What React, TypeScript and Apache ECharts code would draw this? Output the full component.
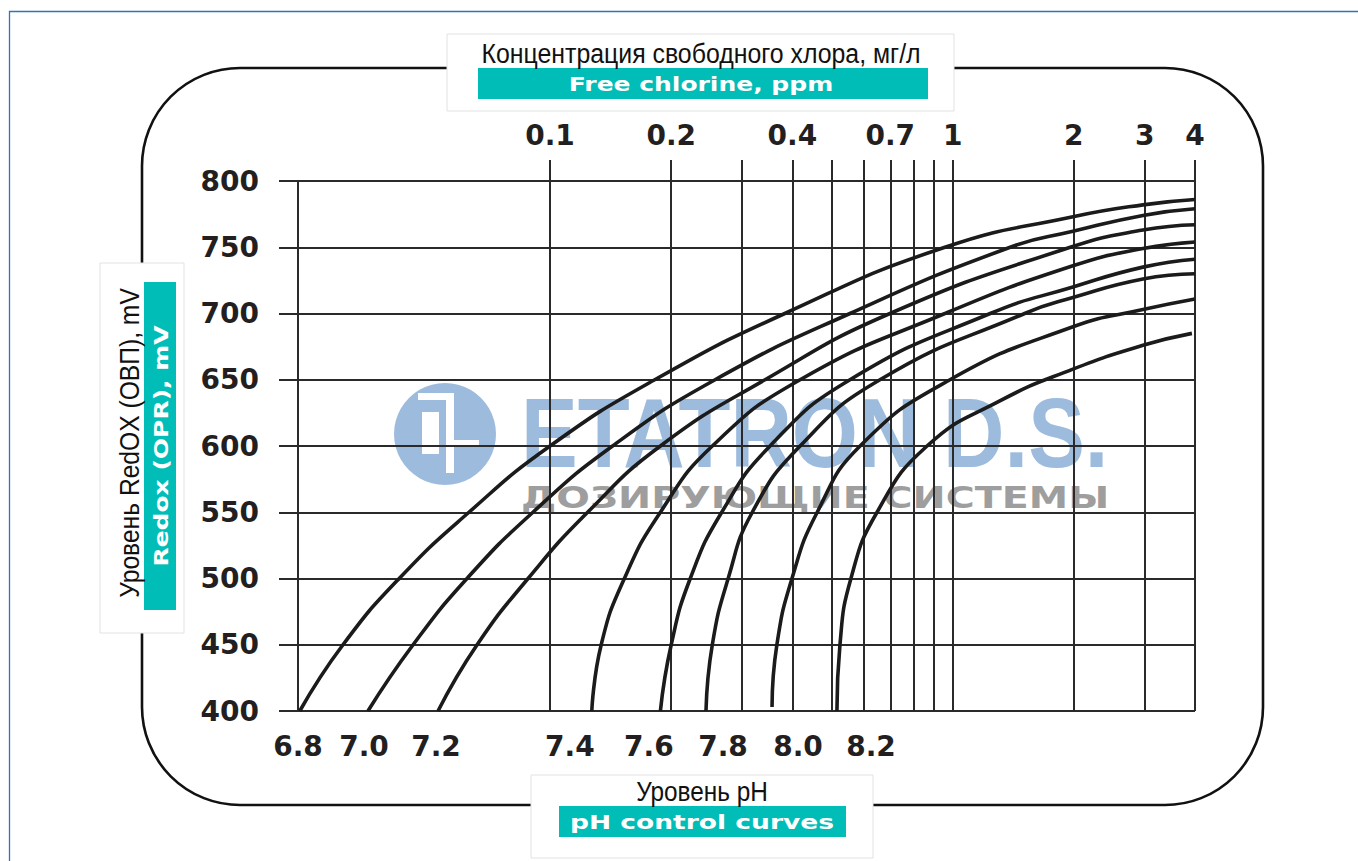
import { useEffect, useRef } from 'react';
import * as echarts from 'echarts';

// ---- data ----
const chlorineMin = 0.02366;
const chlorineMax = 4;
const mvMin = 400;
const mvMax = 800;
const mvStep = 50;
const chlorineGridValues = [0.1, 0.2, 0.3, 0.4, 0.5, 0.6, 0.7, 0.8, 0.9, 1, 2, 3, 4];
const chlorineLabelValues = [0.1, 0.2, 0.4, 0.7, 1, 2, 3, 4];
const phLabels = ['6.8', '7.0', '7.2', '7.4', '7.6', '7.8', '8.0', '8.2'];
const phLabelAt = [0.02366, 0.0345, 0.0521, 0.112, 0.176, 0.269, 0.413, 0.627];

const ph68Ppm = [0.0239, 0.0306, 0.0422, 0.0629, 0.1, 0.182, 0.383, 0.957, 1.99, 2.97, 4.0];
const ph68Mv = [400, 450, 500, 550, 600, 650, 700, 750, 773, 782, 786];
const ph70Ppm = [0.0353, 0.0457, 0.0622, 0.0907, 0.143, 0.257, 0.556, 1.39, 1.99, 2.97, 4.0];
const ph70Mv = [400, 450, 500, 550, 600, 650, 700, 750, 762, 774, 779];
const ph72Ppm = [0.0527, 0.0659, 0.0882, 0.124, 0.188, 0.342, 0.699, 1.96, 2.97, 4.0];
const ph72Mv = [400, 450, 500, 550, 600, 650, 700, 750, 763, 767];
const ph74Ppm = [0.127, 0.134, 0.153, 0.188, 0.253, 0.418, 0.957, 1.99, 2.97, 4.0];
const ph74Mv = [400, 450, 500, 550, 600, 650, 700, 736, 749, 754];
const ph76Ppm = [0.188, 0.2, 0.223, 0.267, 0.352, 0.556, 1.24, 1.99, 2.97, 4.0];
const ph76Mv = [400, 450, 500, 550, 600, 650, 700, 720, 735, 741];
const ph78Ppm = [0.244, 0.253, 0.277, 0.318, 0.418, 0.66, 1.51, 1.99, 2.97, 4.0];
const ph78Mv = [400, 450, 500, 550, 600, 650, 700, 712, 726, 730];
const ph80Ppm = [0.356, 0.366, 0.399, 0.461, 0.589, 0.985, 1.99, 2.97, 4.0];
const ph80Mv = [403, 450, 500, 550, 600, 650, 690, 703, 711];
const ph82Ppm = [0.516, 0.525, 0.559, 0.649, 0.864, 1.31, 1.99, 2.97, 3.93];
const ph82Mv = [400, 450, 500, 550, 600, 634, 658, 676, 685];

const curves = [
  { name: phLabels[0], ppm: ph68Ppm, mv: ph68Mv },
  { name: phLabels[1], ppm: ph70Ppm, mv: ph70Mv },
  { name: phLabels[2], ppm: ph72Ppm, mv: ph72Mv },
  { name: phLabels[3], ppm: ph74Ppm, mv: ph74Mv },
  { name: phLabels[4], ppm: ph76Ppm, mv: ph76Mv },
  { name: phLabels[5], ppm: ph78Ppm, mv: ph78Mv },
  { name: phLabels[6], ppm: ph80Ppm, mv: ph80Mv },
  { name: phLabels[7], ppm: ph82Ppm, mv: ph82Mv },
];

const LOG = (v: number) => Math.log10(v);
const GRID = '#2a2a2a';
const INK = '#231f20';
const TEAL = '#00bdb8';
const PLAIN = '"Liberation Sans", sans-serif';
const HEAVY = '"DejaVu Sans", sans-serif';

function fmtChlorine(value: number) {
  const p = Math.pow(10, value);
  return p >= 0.95 ? String(Math.round(p)) : (Math.round(p * 10) / 10).toFixed(1);
}

function fmtPh(value: number) {
  let best = 0;
  phLabelAt.forEach((v, i) => {
    if (Math.abs(LOG(v) - value) < Math.abs(LOG(phLabelAt[best]) - value)) best = i;
  });
  return phLabels[best];
}

export default function App() {
  const ref = useRef<HTMLDivElement>(null);

  useEffect(() => {
    if (!ref.current) return;
    const chart = echarts.init(ref.current, null, { renderer: 'svg' });

    const labelFont = { fontSize: 28, fontWeight: 'bold', fontFamily: HEAVY, color: INK };

    const graphic: any[] = [
      // outer frame
      { type: 'rect', z: -2, shape: { x: 9.5, y: 11.5, width: 1400, height: 900 }, style: { fill: 'none', stroke: '#2f73b8', lineWidth: 1.3 } },
      // rounded border
      { type: 'rect', z: -2, shape: { x: 142, y: 68, width: 1121, height: 737, r: 98 }, style: { fill: 'none', stroke: '#111', lineWidth: 2.6 } },
      // watermark logo
      { type: 'circle', z: -1, shape: { cx: 445, cy: 434, r: 51 }, style: { fill: '#9dbcdd' } },
      { type: 'rect', z: -1, shape: { x: 422, y: 412, width: 17, height: 42 }, style: { fill: '#fff' } },
      { type: 'rect', z: -1, shape: { x: 418, y: 393, width: 36, height: 7 }, style: { fill: '#fff' } },
      { type: 'rect', z: -1, shape: { x: 446, y: 393, width: 8, height: 80 }, style: { fill: '#fff' } },
      { type: 'rect', z: -1, shape: { x: 454, y: 440, width: 25, height: 7 }, style: { fill: '#fff' } },
      {
        type: 'text', z: -1, x: 521, y: 433, scaleX: 0.868,
        style: { text: 'ETATRON D.S.', fill: '#9dbcdd', font: `bold 98px ${PLAIN}`, textAlign: 'left', textVerticalAlign: 'middle' },
      },
      {
        type: 'text', z: -1, x: 521, y: 497, scaleX: 1.277,
        style: { text: 'ДОЗИРУЮЩИЕ СИСТЕМЫ', fill: '#9e9e9e', font: `bold 31px ${HEAVY}`, textAlign: 'left', textVerticalAlign: 'middle' },
      },
      // top title box
      { type: 'rect', z: 5, shape: { x: 447, y: 34, width: 507, height: 77 }, style: { fill: '#fff', stroke: '#e2e2e2', lineWidth: 1 } },
      { type: 'rect', z: 5, shape: { x: 478, y: 68, width: 450, height: 31 }, style: { fill: TEAL } },
      {
        type: 'text', z: 6, x: 701, y: 53, scaleX: 0.888,
        style: { text: 'Концентрация свободного хлора, мг/л', fill: '#111', font: `28px ${PLAIN}`, textAlign: 'center', textVerticalAlign: 'middle' },
      },
      {
        type: 'text', z: 6, x: 701, y: 84, scaleX: 1.25,
        style: { text: 'Free chlorine, ppm', fill: '#fff', font: `bold 20px ${HEAVY}`, textAlign: 'center', textVerticalAlign: 'middle' },
      },
      // left title box
      { type: 'rect', z: 5, shape: { x: 100, y: 263, width: 84, height: 370 }, style: { fill: '#fff', stroke: '#e2e2e2', lineWidth: 1 } },
      { type: 'rect', z: 5, shape: { x: 144, y: 282, width: 32, height: 328 }, style: { fill: TEAL } },
      {
        type: 'text', z: 6, x: 129, y: 443, rotation: Math.PI / 2, scaleX: 0.88,
        style: { text: 'Уровень RedOX (ОВП), mV', fill: '#111', font: `28px ${PLAIN}`, textAlign: 'center', textVerticalAlign: 'middle' },
      },
      {
        type: 'text', z: 6, x: 161, y: 446, rotation: Math.PI / 2, scaleX: 1.25,
        style: { text: 'Redox (OPR), mV', fill: '#fff', font: `bold 20px ${HEAVY}`, textAlign: 'center', textVerticalAlign: 'middle' },
      },
      // bottom title box
      { type: 'rect', z: 5, shape: { x: 531, y: 775, width: 342, height: 83 }, style: { fill: '#fff', stroke: '#e2e2e2', lineWidth: 1 } },
      { type: 'rect', z: 5, shape: { x: 559, y: 806, width: 287, height: 31 }, style: { fill: TEAL } },
      {
        type: 'text', z: 6, x: 702, y: 791, scaleX: 0.87,
        style: { text: 'Уровень pH', fill: '#111', font: `28px ${PLAIN}`, textAlign: 'center', textVerticalAlign: 'middle' },
      },
      {
        type: 'text', z: 6, x: 702, y: 822, scaleX: 1.325,
        style: { text: 'pH control curves', fill: '#fff', font: `bold 20px ${HEAVY}`, textAlign: 'center', textVerticalAlign: 'middle' },
      },
    ];

    const option: any = {
      animation: false,
      backgroundColor: '#ffffff',
      grid: { left: 298, right: 163, top: 181, bottom: 150, containLabel: false },
      xAxis: [
        {
          type: 'value',
          position: 'top',
          min: LOG(chlorineMin),
          max: LOG(chlorineMax),
          axisLine: { show: true, onZero: false, lineStyle: { color: GRID, width: 2 } },
          axisTick: { show: true, inside: false, length: 21, customValues: chlorineGridValues.map(LOG), lineStyle: { color: GRID, width: 2 } },
          axisLabel: { customValues: chlorineLabelValues.map(LOG), formatter: fmtChlorine, margin: 32, ...labelFont },
          splitLine: { show: true, lineStyle: { color: GRID, width: 2 } },
        },
        {
          type: 'value',
          position: 'bottom',
          min: LOG(chlorineMin),
          max: LOG(chlorineMax),
          axisLine: { show: false, onZero: false },
          axisTick: { show: false },
          splitLine: { show: false },
          axisLabel: { customValues: phLabelAt.map(LOG), formatter: fmtPh, margin: 21, ...labelFont },
        },
      ],
      yAxis: {
        type: 'value',
        min: mvMin,
        max: mvMax,
        interval: mvStep,
        axisLine: { show: true, onZero: false, lineStyle: { color: GRID, width: 2 } },
        axisTick: { show: true, inside: false, length: 19, lineStyle: { color: GRID, width: 2 } },
        axisLabel: { margin: 39, ...labelFont },
        splitLine: { show: true, lineStyle: { color: GRID, width: 2 } },
      },
      series: curves.map((c) => ({
        name: c.name,
        type: 'line',
        xAxisIndex: 0,
        showSymbol: false,
        smooth: 0.5,
        z: 3,
        lineStyle: { color: '#1b1b1b', width: 3.6 },
        data: c.ppm.map((p, i) => [LOG(p), c.mv[i]]),
      })),
      graphic,
    };

    chart.setOption(option);
    return () => chart.dispose();
  }, []);

  return <div ref={ref} style={{ position: 'fixed', left: 0, top: 0, width: 1358, height: 861 }} />;
}
